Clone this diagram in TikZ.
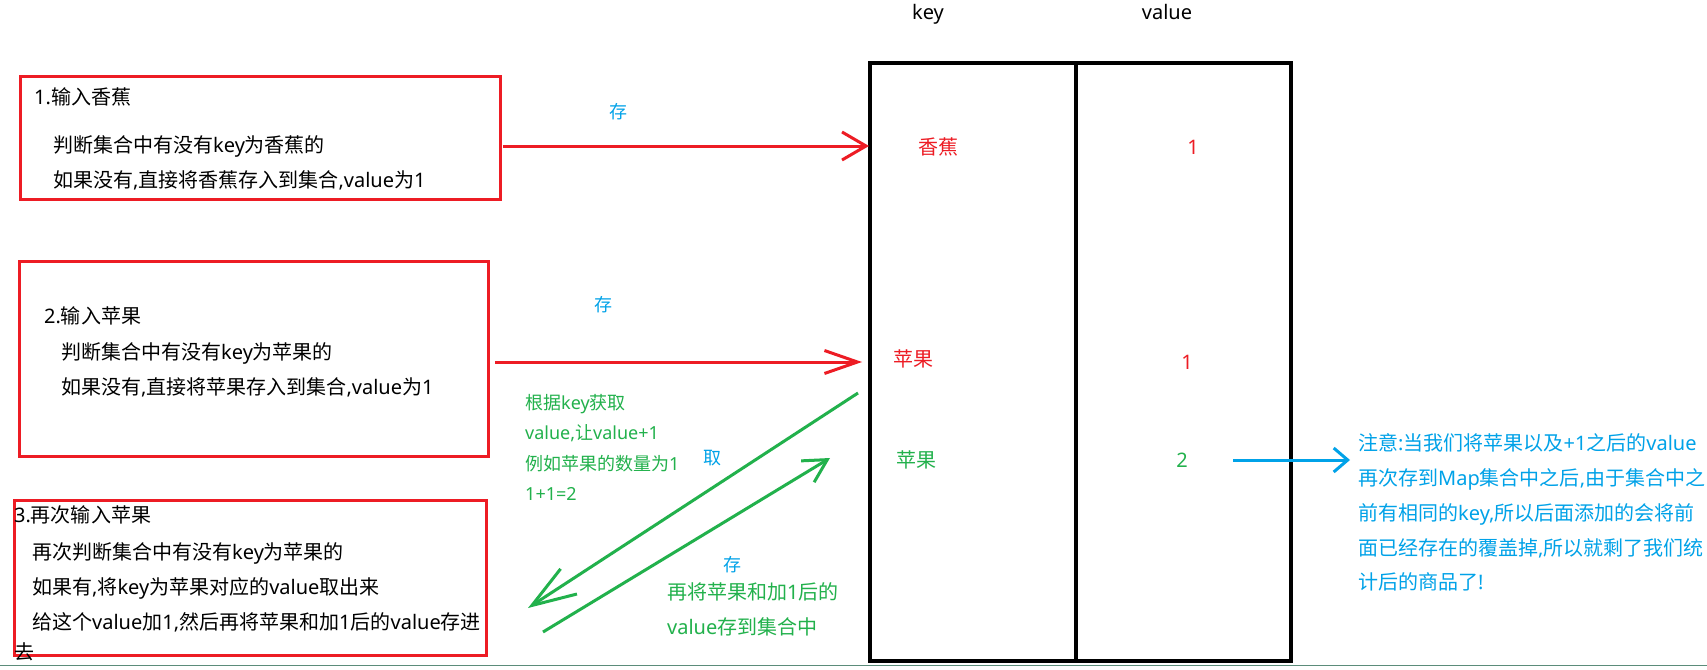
\documentclass[tikz,border=0pt]{standalone}
\usepackage{fontspec}
\setmainfont{Noto Sans CJK SC}
\newfontfamily\latfont{Noto Sans}
\newcommand\latn[1]{{\latfont #1}}
\usetikzlibrary{arrows.meta}
\definecolor{pred}{HTML}{ED1C24}
\definecolor{pgreen}{HTML}{22B14C}
\definecolor{pblue}{HTML}{00A2E8}
\definecolor{edgeline}{HTML}{5B8C7A}
\begin{document}
\begin{tikzpicture}[x=1pt,y=-1pt,
  redbox/.style={draw=pred,line width=3pt,anchor=north west,inner sep=0pt,outer sep=0pt},
  tablebox/.style={draw=black,line width=3.5pt,anchor=north west,inner sep=0pt,outer sep=0pt},
  txt/.style={anchor=base west,inner sep=0pt,font=\fontsize{20}{24}\selectfont},
  gtxt/.style={anchor=base west,inner sep=0pt,text=pgreen,font=\fontsize{18}{22}\selectfont},
  gtxtb/.style={anchor=base west,inner sep=0pt,text=pgreen,font=\fontsize{20}{24}\selectfont},
  btxt/.style={anchor=base west,inner sep=0pt,text=pblue,font=\fontsize{20}{24}\selectfont},
  lbl/.style={inner sep=0pt,text=pblue,font=\fontsize{18}{22}\selectfont},
  cell/.style={inner sep=0pt,font=\fontsize{20}{24}\selectfont},
  hdr/.style={anchor=base,inner sep=0pt,font=\fontsize{20}{24}\selectfont\latfont},
  redarrow/.style={draw=pred,line width=3pt},
  greenarrow/.style={draw=pgreen,line width=3pt},
  bluearrow/.style={draw=pblue,line width=3pt}
]
\fill[white] (0,0) rectangle (1707,669);
\useasboundingbox (0,0) rectangle (1707,669);
\draw[edgeline,line width=1.2pt] (0,665.5) -- (1707,665.5);

% boxes
\node[redbox,minimum width=480pt,minimum height=123pt] (b1) at (20,76) {};
\node[redbox,minimum width=469pt,minimum height=195pt] (b2) at (19,261) {};
\node[redbox,minimum width=472pt,minimum height=155pt] (b3) at (14,500) {};

% box texts
\node[txt] (t11) at (34,104.5) {\latn{1.}输入香蕉};
\node[txt] (t12) at (53,152.5) {判断集合中有没有\latn{key}为香蕉的};
\node[txt] (t13) at (53,187.5) {如果没有\latn{,}直接将香蕉存入到集合\latn{,value}为\latn{1}};

\node[txt] (t21) at (44,323.5) {\latn{2.}输入苹果};
\node[txt] (t22) at (61,359.5) {判断集合中有没有\latn{key}为苹果的};
\node[txt] (t23) at (61,394.5) {如果没有\latn{,}直接将苹果存入到集合\latn{,value}为\latn{1}};

\node[txt] (t31) at (14,522.5) {\latn{3.}再次输入苹果};
\node[txt] (t32) at (32,559.5) {再次判断集合中有没有\latn{key}为苹果的};
\node[txt] (t33) at (32,594.5) {如果有\latn{,}将\latn{key}为苹果对应的\latn{value}取出来};
\node[txt] (t34) at (32,629.5) {给这个\latn{value}加\latn{1,}然后再将苹果和加\latn{1}后的\latn{value}存进};
\node[txt] (t35) at (14,659.5) {去};

% table
\node[tablebox,minimum width=421pt,minimum height=598pt] (tab) at (870,63) {};
\coordinate (divtop) at (1076,63);
\coordinate (divbot) at (1076,661);
\draw[black,line width=3.5pt] (divtop) -- (divbot);
\node[hdr] (hkey) at (928,20) {key};
\node[hdr] (hval) at (1167,20) {value};

\node[cell,text=pred] (k1) at (938,147) {香蕉};
\node[cell,text=pred] (v1) at (1193,147) {\latn{1}};
\node[cell,text=pred] (k2) at (913,359) {苹果};
\node[cell,text=pred] (v2) at (1187,362) {\latn{1}};
\node[cell,text=pgreen] (k3) at (916,460) {苹果};
\node[cell,text=pgreen] (v3) at (1182,460) {\latn{2}};

% red arrows
\coordinate (r1s) at (503,146);
\coordinate (r1e) at (869,146);
\draw[redarrow,-{Straight Barb[length=24pt,width=28pt]}] (r1s) -- (r1e);
\node[lbl] (s1) at (618,112) {存};

\coordinate (r2s) at (495,362);
\coordinate (r2e) at (862,362);
\draw[redarrow,-{Straight Barb[length=33pt,width=23pt]}] (r2s) -- (r2e);
\node[lbl] (s2) at (603,305) {存};

% green arrows
\coordinate (g1s) at (858,393);
\coordinate (g1e) at (528,608);
\draw[greenarrow,-{Straight Barb[length=44pt,width=30pt]}] (g1s) -- (g1e);
\coordinate (g2s) at (543,632);
\coordinate (g2e) at (830,458);
\draw[greenarrow,-{Straight Barb[length=23pt,width=25pt]}] (g2s) -- (g2e);
\node[lbl] (q1) at (712,458) {取};
\node[lbl] (s3) at (732,565) {存};

% green texts
\node[gtxt] (g11) at (525,409) {根据\latn{key}获取};
\node[gtxt] (g12) at (525,439) {\latn{value,}让\latn{value+1}};
\node[gtxt] (g13) at (525,470) {例如苹果的数量为\latn{1}};
\node[gtxt] (g14) at (525,500) {\latn{1+1=2}};
\node[gtxtb] (g21) at (667,599.5) {再将苹果和加\latn{1}后的};
\node[gtxtb] (g22) at (667,634.5) {\latn{value}存到集合中};

% blue arrow and note
\coordinate (bls) at (1233,460);
\coordinate (ble) at (1350,460);
\draw[bluearrow,-{Straight Barb[length=14pt,width=24pt]}] (bls) -- (ble);
\node[btxt] (n1) at (1358,450.5) {注意\latn{:}当我们将苹果以及\latn{+1}之后的\latn{value}};
\node[btxt] (n2) at (1358,485.5) {再次存到\latn{Map}集合中之后\latn{,}由于集合中之};
\node[btxt] (n3) at (1358,520.5) {前有相同的\latn{key,}所以后面添加的会将前};
\node[btxt] (n4) at (1358,555.5) {面已经存在的覆盖掉\latn{,}所以就剩了我们统};
\node[btxt] (n5) at (1358,589.5) {计后的商品了\latn{!}};
\end{tikzpicture}
\end{document}
